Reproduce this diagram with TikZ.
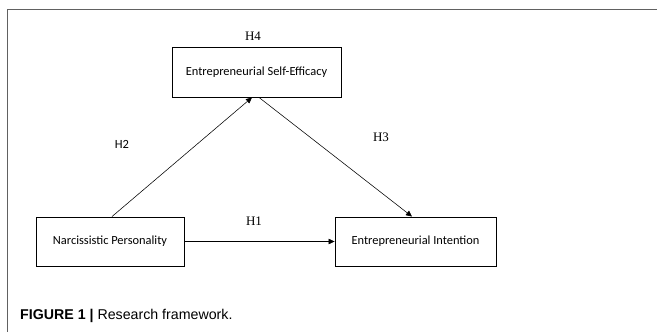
\documentclass[tikz,border=0pt]{standalone}
\usepackage{fontspec}
\setmainfont{Liberation Serif}
\newfontfamily\boxfont{Carlito}
\newfontfamily\capfont{Liberation Sans}
\usetikzlibrary{arrows.meta}
\begin{document}
\begin{tikzpicture}[x=1pt,y=-1pt,
  varbox/.style={draw,line width=0.9pt,inner sep=0pt,font=\boxfont\fontsize{12.4}{14}\selectfont},
  hlab/.style={font=\fontsize{13}{15}\selectfont,inner sep=0pt},
  hlabs/.style={font=\boxfont\fontsize{12.5}{15}\selectfont,inner sep=0pt},
  link/.style={line width=0.55pt,-{Triangle[length=6pt,width=5.5pt]}}]
\useasboundingbox (0,0) rectangle (657,332);
\draw[line width=1.6pt,color=black!62] (657,9.5) -- (7.5,9.5) -- (7.5,332);
\node[varbox,minimum width=169pt,minimum height=50pt] (ese) at (256.5,72) {Entrepreneurial Self-Efficacy};
\node[varbox,minimum width=148pt,minimum height=49pt] (np) at (110,241.5) {Narcissistic Personality};
\node[varbox,minimum width=161pt,minimum height=49pt] (ei) at (415.5,241.5) {Entrepreneurial Intention};
\node[hlab] (h4) at (253,36) {H4};
\node[hlabs] (h2) at (122,144) {H2};
\node[hlab] (h3) at (381,137) {H3};
\node[hlab] (h1) at (254,221) {H1};
\draw[link] (np.east) -- (ei.west);
\draw[link] (np.north -| 112,0) -- (ese.south -| 252,0);
\draw[link] (ese.south -| 259,0) -- (ei.north -| 412,0);
\node[anchor=base west,inner sep=0pt,font=\capfont\fontsize{14.2}{16}\selectfont] (cap) at (20,319) {\textbf{FIGURE 1} \textbf{|} Research framework.};
\end{tikzpicture}
\end{document}
